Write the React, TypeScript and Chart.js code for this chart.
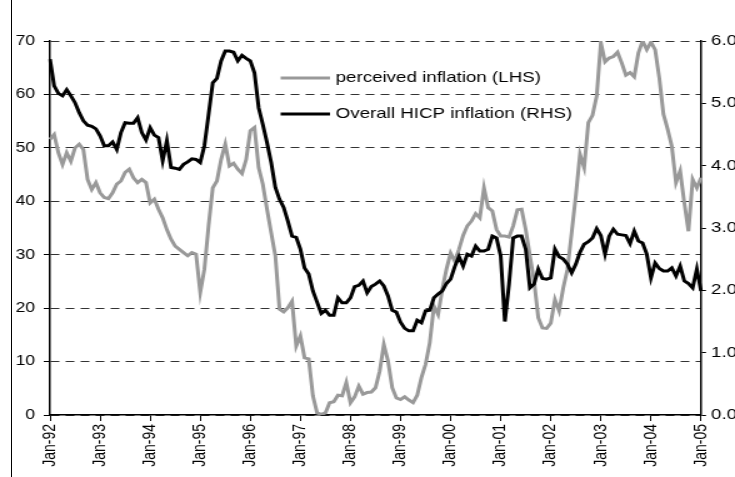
import React, { useEffect, useRef } from 'react';
import { Chart, registerables } from 'chart.js';

Chart.register(...registerables);

const YEARS = ['92', '93', '94', '95', '96', '97', '98', '99', '00', '01', '02', '03', '04', '05'];
const MONTHS = ['Jan', 'Feb', 'Mar', 'Apr', 'May', 'Jun', 'Jul', 'Aug', 'Sep', 'Oct', 'Nov', 'Dec'];
const categories = YEARS.flatMap((y) => MONTHS.map((m) => `${m}-${y}`)).slice(0, 157);

// Perceived inflation (left axis)
const perceived = [
  51.6, 52.5, 49.1, 46.9, 49.1, 47.5, 50.0, 50.7, 49.7, 44.1, 42.2, 43.5,
  41.6, 40.7, 40.5, 41.6, 43.2, 43.8, 45.4, 46.0, 44.4, 43.5, 44.1, 43.5,
  39.7, 40.4, 38.5, 36.9, 34.7, 32.9, 31.6, 31.0, 30.4, 29.8, 30.4, 30.1,
  22.9, 27.3, 35.4, 42.5, 43.8, 47.8, 50.7, 46.6, 47.1, 46.0, 45.2, 47.8,
  53.2, 53.8, 46.3, 43.2, 38.5, 34.1, 29.8, 19.8, 19.3, 20.1, 21.3, 12.9,
  14.8, 10.7, 10.5, 3.6, 0.4, 0.1, 0.4, 2.3, 2.5, 3.7, 3.6, 6.1,
  2.3, 3.4, 5.4, 3.9, 4.2, 4.3, 5.1, 8.2, 13.2, 10.1, 5.1, 3.2,
  2.9, 3.4, 2.8, 2.3, 3.7, 7.0, 9.5, 13.5, 20.4, 18.8, 23.5, 27.3,
  30.3, 28.8, 31.0, 33.6, 35.4, 36.3, 37.7, 36.9, 42.5, 38.8, 38.2, 34.7,
  33.5, 33.5, 33.3, 35.4, 38.4, 38.5, 34.7, 29.8, 25.1, 18.2, 16.3, 16.2,
  17.2, 21.6, 19.5, 23.8, 27.3, 34.1, 41.0, 48.8, 46.3, 54.7, 56.1, 59.7,
  69.7, 66.1, 66.8, 67.1, 67.9, 65.9, 63.6, 64.1, 63.3, 67.8, 70.0, 68.4,
  69.8, 68.4, 63.1, 56.3, 53.5, 50.3, 43.5, 45.7, 39.7, 34.4, 44.1, 42.5,
  44.4,
];

// Overall HICP inflation (right axis)
const hicp = [
  5.71, 5.28, 5.16, 5.12, 5.22, 5.12, 5.01, 4.85, 4.72, 4.65, 4.63, 4.59,
  4.48, 4.32, 4.32, 4.38, 4.26, 4.53, 4.69, 4.68, 4.68, 4.77, 4.53, 4.41,
  4.61, 4.49, 4.45, 4.08, 4.40, 3.97, 3.96, 3.94, 4.02, 4.06, 4.11, 4.10,
  4.05, 4.32, 4.82, 5.33, 5.40, 5.68, 5.84, 5.84, 5.82, 5.68, 5.77, 5.72,
  5.68, 5.49, 4.93, 4.66, 4.37, 4.05, 3.65, 3.46, 3.33, 3.11, 2.87, 2.85,
  2.66, 2.36, 2.26, 1.99, 1.81, 1.63, 1.68, 1.60, 1.60, 1.88, 1.80, 1.80,
  1.88, 2.06, 2.08, 2.15, 1.96, 2.06, 2.10, 2.15, 2.07, 1.91, 1.68, 1.65,
  1.49, 1.39, 1.35, 1.35, 1.52, 1.48, 1.67, 1.68, 1.88, 1.94, 1.99, 2.11,
  2.18, 2.38, 2.54, 2.39, 2.58, 2.55, 2.71, 2.63, 2.63, 2.66, 2.87, 2.84,
  2.55, 1.50, 2.10, 2.84, 2.87, 2.87, 2.66, 2.04, 2.10, 2.34, 2.19, 2.18,
  2.20, 2.66, 2.54, 2.50, 2.42, 2.28, 2.42, 2.61, 2.74, 2.78, 2.84, 2.99,
  2.88, 2.58, 2.87, 2.98, 2.90, 2.89, 2.88, 2.75, 2.95, 2.79, 2.76, 2.58,
  2.20, 2.44, 2.35, 2.31, 2.31, 2.36, 2.23, 2.39, 2.15, 2.11, 2.04, 2.34,
  1.99,
];

const legendLabels = ['perceived inflation (LHS)', 'Overall HICP inflation (RHS)'];
const leftTicks = { min: 0, max: 70, step: 10 };
const rightTicks = { min: 0, max: 6, step: 1 };

const W = 600;
const H = 477;
const SX = 1.25;
const FONT = 'Liberation Sans, Arial, Helvetica, sans-serif';

const legendPlugin = {
  id: 'customLegend',
  afterDraw(chart: any) {
    const ctx = chart.ctx;
    ctx.save();
    const items = [
      { label: legendLabels[0], color: '#999999', y: 78 },
      { label: legendLabels[1], color: '#000000', y: 114 },
    ];
    for (const it of items) {
      ctx.strokeStyle = it.color;
      ctx.lineWidth = 3;
      ctx.beginPath();
      ctx.moveTo(224.5, it.y);
      ctx.lineTo(264, it.y);
      ctx.stroke();
      ctx.fillStyle = '#000';
      ctx.font = `15px ${FONT}`;
      ctx.textBaseline = 'middle';
      ctx.textAlign = 'left';
      ctx.fillText(it.label, 268.5, it.y);
    }
    ctx.restore();
  },
};

export default function App() {
  const ref = useRef<HTMLCanvasElement | null>(null);

  useEffect(() => {
    if (!ref.current) return;
    const font = { family: FONT, size: 14 };
    const chart = new Chart(ref.current, {
      type: 'line',
      data: {
        labels: categories,
        datasets: [
          {
            label: legendLabels[1],
            data: hicp,
            yAxisID: 'y1',
            borderColor: '#000000',
            borderWidth: 3,
            pointRadius: 0,
            tension: 0,
            fill: false,
          },
          {
            label: legendLabels[0],
            data: perceived,
            yAxisID: 'y',
            borderColor: '#999999',
            borderWidth: 3,
            pointRadius: 0,
            tension: 0,
            fill: false,
          },
        ],
      },
      options: {
        responsive: false,
        animation: false,
        events: [],
        layout: { padding: { top: 41, left: 0, right: 0, bottom: 0 } },
        plugins: { legend: { display: false }, tooltip: { enabled: false } },
        scales: {
          x: {
            type: 'category',
            offset: false,
            grid: {
              drawOnChartArea: false,
              drawTicks: true,
              tickLength: 6,
              tickWidth: 1,
              tickColor: (c: any) => (c.index % 12 === 0 ? '#000' : 'rgba(0,0,0,0)'),
            },
            border: { color: '#000', width: 1.5 },
            ticks: {
              autoSkip: false,
              maxRotation: 90,
              minRotation: 90,
              padding: 3,
              color: '#000',
              font,
              callback: (_v: any, i: number) => (categories[i].startsWith('Jan') ? categories[i] : ''),
            },
            afterFit: (s: any) => {
              s.height = 62;
            },
          },
          y: {
            position: 'left',
            min: leftTicks.min,
            max: leftTicks.max,
            ticks: { stepSize: leftTicks.step, padding: 7, color: '#000', font },
            grid: { color: '#333', lineWidth: 1, tickLength: 5, tickColor: '#000', tickBorderDash: [] },
            border: { color: '#000', width: 1.5, dash: [7, 5] },
            afterFit: (s: any) => {
              s.width = 40;
            },
          },
          y1: {
            position: 'right',
            min: rightTicks.min,
            max: rightTicks.max,
            ticks: {
              stepSize: rightTicks.step,
              padding: 4,
              color: '#000',
              font: { family: FONT, size: 15 },
              callback: (v: any) => Number(v).toFixed(1),
            },
            grid: { drawOnChartArea: false, tickLength: 4, tickColor: '#000' },
            border: { color: '#000', width: 1.5 },
            afterFit: (s: any) => {
              s.width = W - 560.8;
            },
          },
        },
      },
      plugins: [legendPlugin],
    } as any);
    return () => chart.destroy();
  }, []);

  return (
    <div
      style={{
        position: 'fixed',
        left: 0,
        top: 0,
        width: 735,
        height: 477,
        overflow: 'hidden',
        background: '#fff',
      }}
    >
      <div
        style={{
          position: 'absolute',
          left: 0,
          top: 0,
          width: W,
          height: H,
          transform: `scaleX(${SX})`,
          transformOrigin: '0 0',
        }}
      >
        <canvas ref={ref} width={W} height={H} style={{ display: 'block' }} />
      </div>
      <div style={{ position: 'absolute', left: 11, top: 0, width: 1, height: 477, background: '#000' }} />
    </div>
  );
}
